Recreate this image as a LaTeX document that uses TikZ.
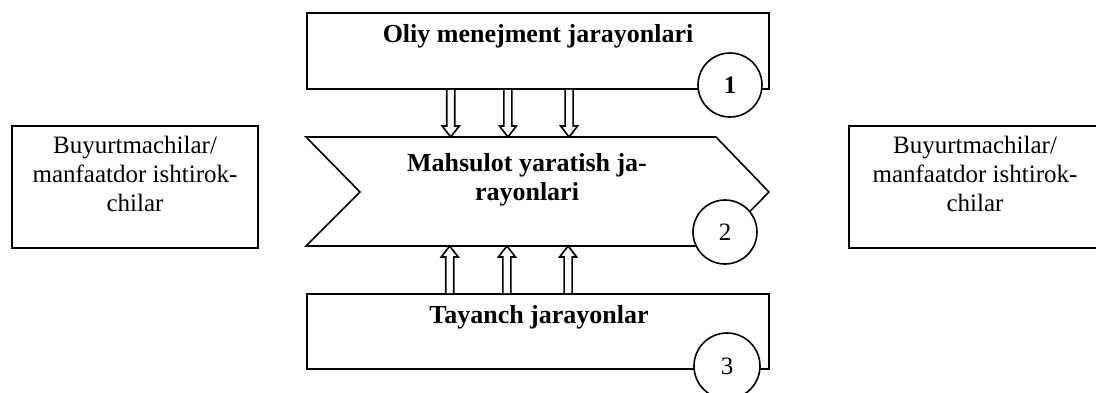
\documentclass[tikz,border=0pt]{standalone}
\usepackage{fontspec}
\setmainfont{Liberation Serif}
\usetikzlibrary{calc}
\begin{document}
\begin{tikzpicture}[x=1pt,y=-1pt,line width=1.6pt,
  procbox/.style={draw,rectangle,inner sep=0pt},
  sidebox/.style={draw,rectangle,inner sep=0pt,minimum height=122pt},
  boldtxt/.style={font=\fontsize{26}{29}\selectfont\bfseries,align=center,inner sep=0pt},
  regtxt/.style={font=\fontsize{25}{29}\selectfont,align=center,inner sep=0pt},
  num/.style={draw,circle,fill=white,minimum size=64pt,inner sep=0pt,font=\fontsize{25}{29}\selectfont},
  hollow/.style={fill=white,to path={let \p1=($(\tikztotarget)!11pt!(\tikztostart)$) in
    ($(\tikztostart)+(-4,0)$) -- ($(\p1)+(-4,0)$) -- ($(\p1)+(-8.5,0)$) -- (\tikztotarget)
    -- ($(\p1)+(8.5,0)$) -- ($(\p1)+(4,0)$) -- ($(\tikztostart)+(4,0)$)}}]
\useasboundingbox (0,0) rectangle (1096,392);
% side boxes
\node[sidebox,minimum width=246pt] (left) at (135,187) {};
\node[regtxt] (lefttxt) at (135,174) {Buyurtmachilar/\\manfaatdor ishtirok-\\chilar};
\node[sidebox,minimum width=252pt] (right) at (975,187) {};
\node[regtxt] (righttxt) at (975,174) {Buyurtmachilar/\\manfaatdor ishtirok-\\chilar};
% top box
\node[procbox,minimum width=462pt,minimum height=76pt] (top) at (538,51) {};
\node[boldtxt,anchor=base] (toptxt) at (538,42) {Oliy menejment jarayonlari};
% chevron
\coordinate (c1) at (306,137);
\coordinate (c2) at (716,137);
\coordinate (c3) at (769,192);
\coordinate (c4) at (716,246);
\coordinate (c5) at (306,246);
\coordinate (c6) at (360,192);
\draw[line join=miter] (c1) -- (c2) -- (c3) -- (c4) -- (c5) -- (c6) -- cycle;
\node[boldtxt] (midtxt) at (527,180) {Mahsulot yaratish ja-\\rayonlari};
% bottom box
\node[procbox,minimum width=462pt,minimum height=75pt] (bot) at (538,331.5) {};
\node[boldtxt,anchor=base] (bottxt) at (539,323) {Tayanch jarayonlar};
% numbers
\node[num,font=\fontsize{25}{29}\selectfont\bfseries] (n1) at (730,85) {1};
\node[num] (n2) at (725,232) {2};
\node[num,minimum size=66pt] (n3) at (727,366) {3};
% arrows
\foreach \i/\f in {1/0.3117,2/0.4351,3/0.5671}{
  \coordinate (ds\i) at ($(top.south west)!\f!(top.south east)$);
  \coordinate (dt\i) at (ds\i |- c1);
  \draw[hollow] (ds\i) to (dt\i);
  \coordinate (us\i) at ($(bot.north west)!\f!(bot.north east)+(-1,0)$);
  \coordinate (ut\i) at (us\i |- c5);
  \draw[hollow] (us\i) to (ut\i);
}
\end{tikzpicture}
\end{document}
